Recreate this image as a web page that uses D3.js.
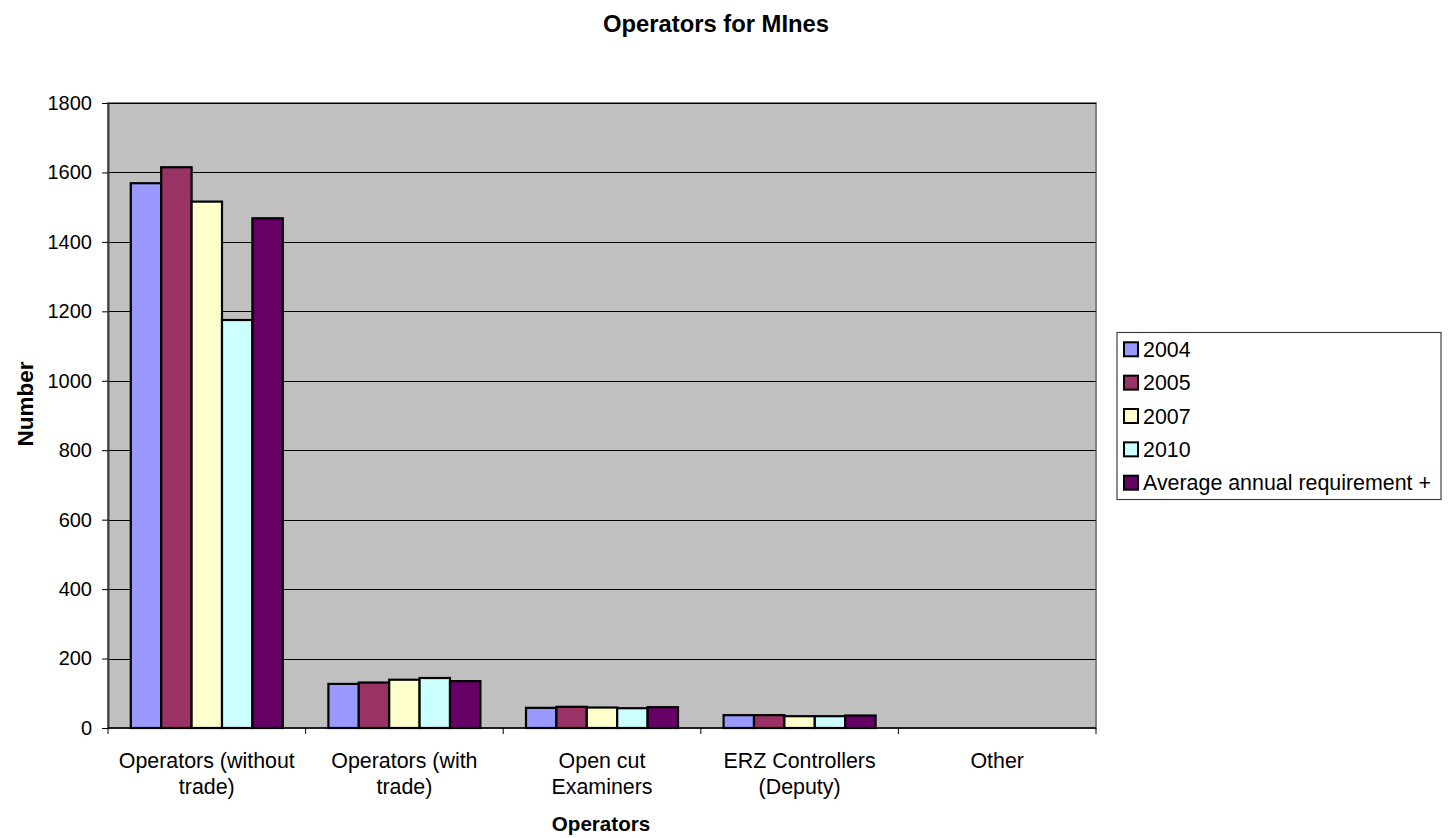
<!DOCTYPE html>
<html>
<head>
<meta charset="utf-8">
<script src="https://cdn.jsdelivr.net/npm/d3@7"></script>
<style>
  html, body { margin: 0; padding: 0; background: #fff; }
  svg { display: block; font-family: Arial, "Liberation Sans", sans-serif; }
</style>
</head>
<body>
<svg id="chart" width="1450" height="838"></svg>
<script>
// Category labels (each row is one wrapped line of the label)
const categories = [
  ["Operators (without", "trade)"],
  ["Operators (with", "trade)"],
  ["Open cut", "Examiners"],
  ["ERZ Controllers", "(Deputy)"],
  ["Other"]
];
const seriesNames = ["2004", "2005", "2007", "2010", "Average annual requirement +"];
const seriesColors = ["#9999FF", "#993366", "#FFFFCC", "#CCFFFF", "#660066"];
// Values per series, one per category
const values2004 = [1569, 127, 58, 37, 0];
const values2005 = [1615, 131, 61, 37, 0];
const values2007 = [1516, 139, 59, 34, 0];
const values2010 = [1175, 144, 57, 34, 0];
const valuesAvg  = [1468, 135, 60, 36, 0];
const seriesValues = [values2004, values2005, values2007, values2010, valuesAvg];
const yTicks = [0, 200, 400, 600, 800, 1000, 1200, 1400, 1600, 1800];

const svg = d3.select("#chart");
const plot = { left: 108, right: 1096, top: 103, bottom: 728 };

const x0 = d3.scaleBand()
  .domain(d3.range(categories.length))
  .range([plot.left, plot.right])
  .paddingInner(0).paddingOuter(0);
// 150% gap between clusters: 5 bars + 1.5 bar widths per group
const x1 = d3.scaleBand()
  .domain(d3.range(seriesNames.length))
  .range([0, x0.bandwidth()])
  .paddingInner(0)
  .paddingOuter(0.75);
const y = d3.scaleLinear().domain([0, 1800]).range([plot.bottom, plot.top]);

// Plot background
svg.append("rect")
  .attr("x", plot.left).attr("y", plot.top)
  .attr("width", plot.right - plot.left).attr("height", plot.bottom - plot.top)
  .attr("fill", "#C0C0C0").attr("stroke", "#808080").attr("stroke-width", 2);

// Gridlines
svg.append("g").selectAll("line")
  .data(yTicks.filter(t => t > 0))
  .join("line")
  .attr("x1", plot.left).attr("x2", plot.right)
  .attr("y1", d => Math.round(y(d)) + 0.5).attr("y2", d => Math.round(y(d)) + 0.5)
  .attr("stroke", "#000").attr("stroke-width", 1);

// Bars
const groups = svg.append("g").selectAll("g")
  .data(categories.map((c, i) => i))
  .join("g")
  .attr("transform", i => `translate(${x0(i)},0)`);
groups.selectAll("rect")
  .data(i => seriesValues.map((vals, s) => ({ s, v: vals[i] })).filter(d => d.v > 0))
  .join("rect")
  .attr("x", d => x1(d.s))
  .attr("y", d => y(d.v))
  .attr("width", x1.bandwidth())
  .attr("height", d => y(0) - y(d.v))
  .attr("fill", d => seriesColors[d.s])
  .attr("stroke", "#000").attr("stroke-width", 2.2);

// Y axis
const yAxis = d3.axisLeft(y).tickValues(yTicks).tickFormat(d3.format("d"))
  .tickSize(6).tickPadding(10).tickSizeOuter(0);
const gy = svg.append("g").attr("transform", `translate(${plot.left},0)`).call(yAxis);
gy.select(".domain").attr("stroke", "#404040").attr("stroke-width", 2);
gy.selectAll(".tick line").attr("stroke", "#000");
gy.selectAll(".tick text").attr("font-size", 20).attr("fill", "#000")
  .attr("font-family", "Arial, 'Liberation Sans', sans-serif");

// X axis baseline and category separators
svg.append("line")
  .attr("x1", plot.left).attr("x2", plot.right)
  .attr("y1", plot.bottom).attr("y2", plot.bottom)
  .attr("stroke", "#000").attr("stroke-width", 1.5);
svg.append("g").selectAll("line")
  .data(d3.range(categories.length + 1))
  .join("line")
  .attr("x1", i => i < categories.length ? x0(i) : plot.right)
  .attr("x2", i => i < categories.length ? x0(i) : plot.right)
  .attr("y1", plot.bottom).attr("y2", plot.bottom + 6)
  .attr("stroke", "#000").attr("stroke-width", 1);

// Category labels
svg.append("g").selectAll("text")
  .data(categories.map((c, i) => ({ c, i })))
  .join("text")
  .attr("text-anchor", "middle")
  .attr("font-size", 21.4)
  .attr("fill", "#000")
  .each(function(d) {
    d3.select(this).selectAll("tspan")
      .data(d.c)
      .join("tspan")
      .attr("x", x0(d.i) + x0.bandwidth() / 2)
      .attr("y", (t, k) => 768 + k * 25.5)
      .text(t => t);
  });

// Titles
svg.append("text")
  .attr("x", 716).attr("y", 32)
  .attr("text-anchor", "middle").attr("font-weight", "bold").attr("font-size", 23.8)
  .text("Operators for MInes");
svg.append("text")
  .attr("x", 601).attr("y", 831)
  .attr("text-anchor", "middle").attr("font-weight", "bold").attr("font-size", 20.6)
  .text("Operators");
svg.append("text")
  .attr("transform", "translate(33,404) rotate(-90)")
  .attr("text-anchor", "middle").attr("font-weight", "bold").attr("font-size", 22.5)
  .text("Number");

// Legend
const legend = svg.append("g");
legend.append("rect")
  .attr("x", 1117).attr("y", 332.5).attr("width", 324).attr("height", 167)
  .attr("fill", "#fff").attr("stroke", "#404040").attr("stroke-width", 1.2);
const rows = legend.selectAll("g.item")
  .data(seriesNames.map((n, i) => ({ n, i })))
  .join("g").attr("class", "item")
  .attr("transform", d => `translate(0,${349.3 + d.i * 33.35})`);
rows.append("rect")
  .attr("x", 1124).attr("y", -7).attr("width", 14).attr("height", 14)
  .attr("fill", d => seriesColors[d.i]).attr("stroke", "#000").attr("stroke-width", 2);
rows.append("text")
  .attr("x", 1143).attr("y", 0).attr("dy", "0.36em")
  .attr("font-size", 21.4).attr("fill", "#000")
  .text(d => d.n);
</script>
</body>
</html>
